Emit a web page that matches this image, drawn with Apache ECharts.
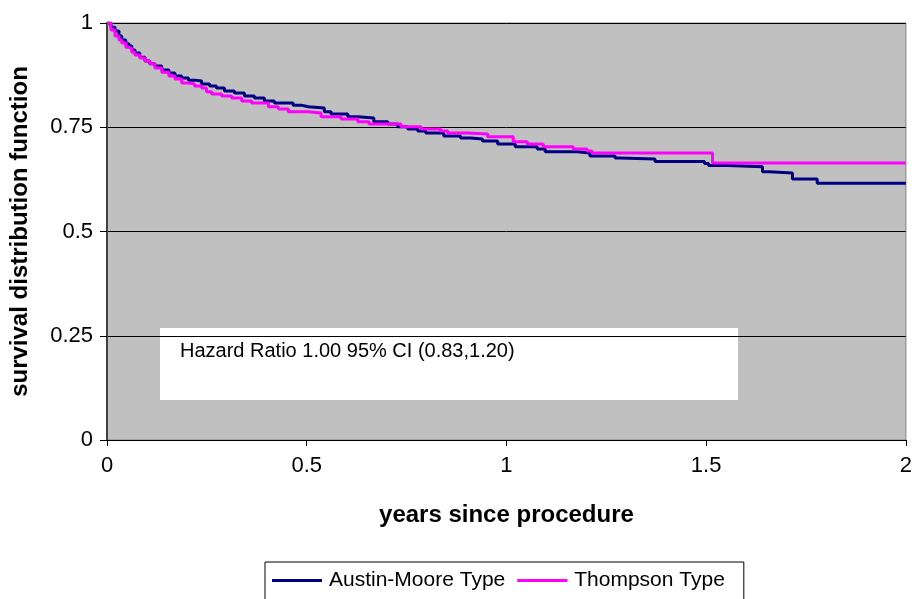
<!DOCTYPE html>
<html>
<head>
<meta charset="utf-8">
<script src="https://cdn.jsdelivr.net/npm/echarts@6/dist/echarts.min.js"></script>
<style>
  html, body { margin: 0; padding: 0; background: #fff; }
  #chart { width: 915px; height: 599px; }
</style>
</head>
<body>
<div id="chart"></div>
<script>
// years since procedure / survival, one pair per step (value after the drop)
const austinTimes = [0, 0.010, 0.020, 0.030, 0.037, 0.047, 0.055, 0.062, 0.070, 0.082, 0.095, 0.107, 0.120, 0.137, 0.155, 0.170, 0.187, 0.204, 0.219, 0.237, 0.257, 0.274, 0.294, 0.319, 0.344, 0.369, 0.394, 0.419, 0.466, 0.486, 0.504, 0.544, 0.561, 0.603, 0.628, 0.668, 0.703, 0.728, 0.753, 0.778, 0.798, 0.843, 0.885, 0.910, 0.940, 0.978, 1.022, 1.077, 1.097, 1.177, 1.209, 1.272, 1.284, 1.372, 1.496, 1.506, 1.554, 1.641, 1.658, 1.716, 1.778, 2.0]
const austinSurv = [1, 0.990, 0.981, 0.969, 0.959, 0.950, 0.945, 0.935, 0.928, 0.918, 0.909, 0.902, 0.897, 0.887, 0.880, 0.873, 0.868, 0.863, 0.861, 0.854, 0.849, 0.844, 0.837, 0.832, 0.825, 0.820, 0.813, 0.808, 0.803, 0.799, 0.796, 0.787, 0.782, 0.775, 0.772, 0.763, 0.758, 0.751, 0.746, 0.741, 0.736, 0.729, 0.724, 0.722, 0.717, 0.710, 0.703, 0.698, 0.691, 0.688, 0.681, 0.676, 0.674, 0.668, 0.663, 0.658, 0.655, 0.643, 0.640, 0.626, 0.616, 0.616]

const thompsonTimes = [0, 0.010, 0.020, 0.030, 0.037, 0.047, 0.055, 0.062, 0.070, 0.082, 0.095, 0.107, 0.120, 0.137, 0.155, 0.170, 0.187, 0.204, 0.219, 0.237, 0.249, 0.262, 0.287, 0.312, 0.337, 0.362, 0.404, 0.429, 0.454, 0.504, 0.536, 0.586, 0.628, 0.656, 0.736, 0.786, 0.835, 0.853, 0.903, 0.953, 1.017, 1.052, 1.092, 1.167, 1.202, 1.214, 1.516, 2.0]
const thompsonSurv = [1, 0.983, 0.969, 0.959, 0.952, 0.942, 0.938, 0.930, 0.923, 0.916, 0.909, 0.902, 0.892, 0.882, 0.873, 0.866, 0.856, 0.854, 0.849, 0.844, 0.835, 0.830, 0.825, 0.820, 0.813, 0.808, 0.799, 0.794, 0.787, 0.784, 0.775, 0.770, 0.763, 0.758, 0.751, 0.746, 0.741, 0.736, 0.734, 0.727, 0.715, 0.710, 0.703, 0.698, 0.693, 0.688, 0.664, 0.664]

const seriesNames = ['Austin-Moore Type', 'Thompson Type']
const noteText = 'Hazard Ratio 1.00 95% CI (0.83,1.20)'

const pairs = (xs, ys) => xs.map((x, i) => [x, ys[i]])

const chart = echarts.init(document.getElementById('chart'))
const font = 'Liberation Sans, Arial, sans-serif'

const option = {
  animation: false,
  backgroundColor: '#fff',
  textStyle: { fontFamily: font },
  grid: {
    left: 105,
    right: 8,
    top: 23,
    bottom: 159,
    show: true,
    backgroundColor: '#c0c0c0',
    borderColor: '#808080',
    borderWidth: 1,
  },
  legend: {
    data: seriesNames,
    left: 265,
    top: 562,
    itemWidth: 50,
    itemHeight: 3,
    itemGap: 12,
    icon: 'rect',
    padding: [8, 19, 12, 7],
    borderColor: '#000',
    borderWidth: 1,
    backgroundColor: '#fff',
    textStyle: { fontSize: 21, color: '#000', fontFamily: font, padding: [0, 0, 0, 2] },
  },
  xAxis: {
    type: 'value',
    min: 0,
    max: 2,
    interval: 0.5,
    name: 'years since procedure',
    nameLocation: 'middle',
    nameGap: 63,
    nameTextStyle: { fontSize: 24, fontWeight: 'bold', color: '#000' },
    axisLine: { lineStyle: { color: '#000', width: 1 } },
    axisTick: { show: true, length: 6, lineStyle: { color: '#000' } },
    axisLabel: { fontSize: 22, color: '#000', margin: 15 },
    splitLine: { show: false },
  },
  yAxis: {
    type: 'value',
    min: 0,
    max: 1,
    interval: 0.25,
    name: 'survival distribution function',
    nameLocation: 'middle',
    nameGap: 75,
    nameTextStyle: { fontSize: 24, fontWeight: 'bold', color: '#000' },
    axisLine: { show: true, lineStyle: { color: '#404040', width: 2 } },
    axisTick: { show: true, length: 7, lineStyle: { color: '#000' } },
    axisLabel: { fontSize: 22, color: '#000', margin: 14 },
    splitLine: { show: true, lineStyle: { color: '#000', width: 1 } },
  },
  graphic: [
    {
      type: 'group',
      left: 160,
      top: 328,
      z: 10,
      children: [
        {
          type: 'rect',
          shape: { x: 0, y: 0, width: 578, height: 72 },
          style: { fill: '#fff' },
        },
        {
          type: 'text',
          x: 20,
          y: 23,
          style: { text: noteText, fill: '#000', font: '20px ' + font, verticalAlign: 'middle' },
        },
      ],
    },
  ],
  series: [
    {
      name: seriesNames[0],
      type: 'line',
      step: 'end',
      data: pairs(austinTimes, austinSurv),
      showSymbol: false,
      lineStyle: { color: '#000080', width: 3 },
      itemStyle: { color: '#000080' },
      z: 3,
    },
    {
      name: seriesNames[1],
      type: 'line',
      step: 'end',
      data: pairs(thompsonTimes, thompsonSurv),
      showSymbol: false,
      lineStyle: { color: '#ff00ff', width: 3 },
      itemStyle: { color: '#ff00ff' },
      z: 4,
    },
  ],
}

chart.setOption(option)
</script>
</body>
</html>
